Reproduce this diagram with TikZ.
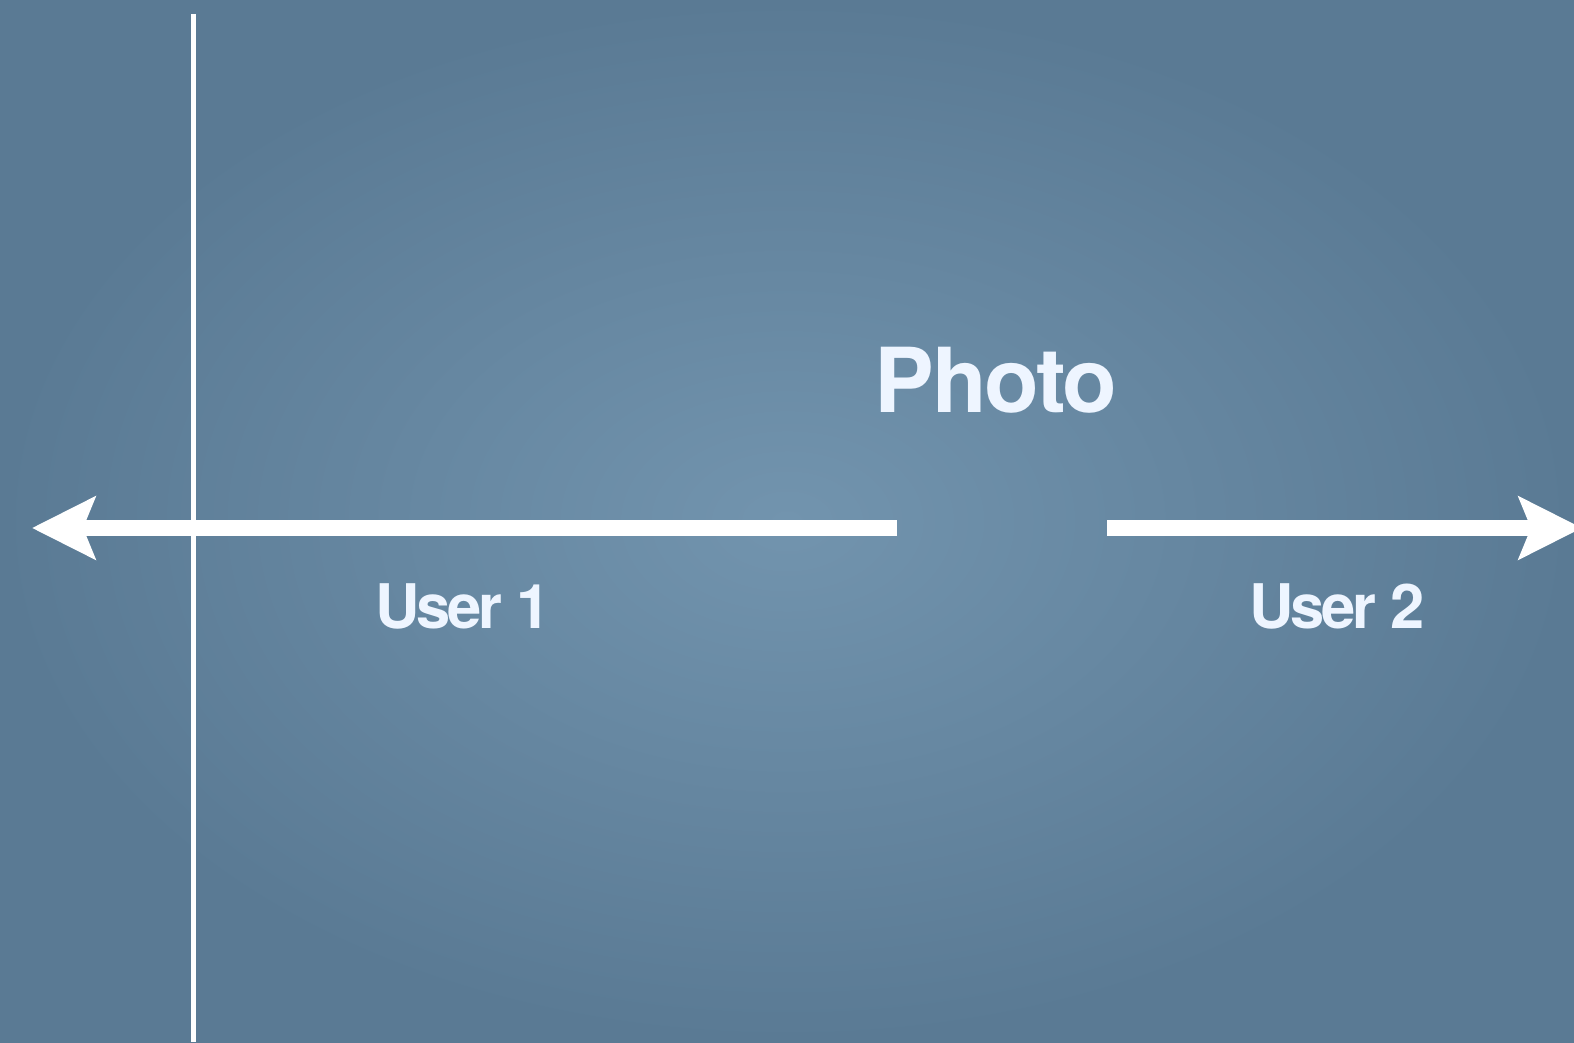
\documentclass[tikz,border=0pt]{standalone}
\usepackage{fontspec}
\setmainfont{TeX Gyre Heros}
\usetikzlibrary{arrows.meta}
\definecolor{bgout}{HTML}{5A7A94}
\definecolor{bgin}{HTML}{7294AE}
\definecolor{labeltext}{HTML}{EEF5FF}
\tikzset{
  axisline/.style={draw=white, line width=0.1cm},
  timeline/.style={draw=white, line width=0.32cm, -{Stealth[length=1.26cm, width=1.24cm, inset=0.24cm]}},
  bigtitle/.style={text=labeltext, font=\fontsize{51}{56}\selectfont\bfseries\addfontfeatures{LetterSpace=-2.5}, inner sep=0pt},
  userlabel/.style={text=labeltext, font=\fontsize{35}{40}\selectfont\bfseries\addfontfeatures{LetterSpace=-5}, inner sep=0pt}
}

\begin{document}
\begin{tikzpicture}[x=0.02cm, y=0.02cm]
        % background
        \shade[inner color=bgin, outer color=bgout] (0,0) rectangle (1574,1042);
        \useasboundingbox (0,0) rectangle (1574,1042);

        \coordinate (vtop) at (193,1028);
        \coordinate (vbot) at (193,0);
        \coordinate (lend) at (897,514);
        \coordinate (ltip) at (32,514);
        \coordinate (rstart) at (1107,514);
        \coordinate (rtip) at (1582,514);

        \draw[axisline] (vtop) -- (vbot);
        \draw[timeline] (lend) -- (ltip);
        \draw[timeline] (rstart) -- (rtip);

        \node[bigtitle](photo) at (996,662) {Photo};
        \node[userlabel](user1) at (463,436) {User 1};
        \node[userlabel](user2) at (1337,436) {User 2};
    \end{tikzpicture}
\end{document}
